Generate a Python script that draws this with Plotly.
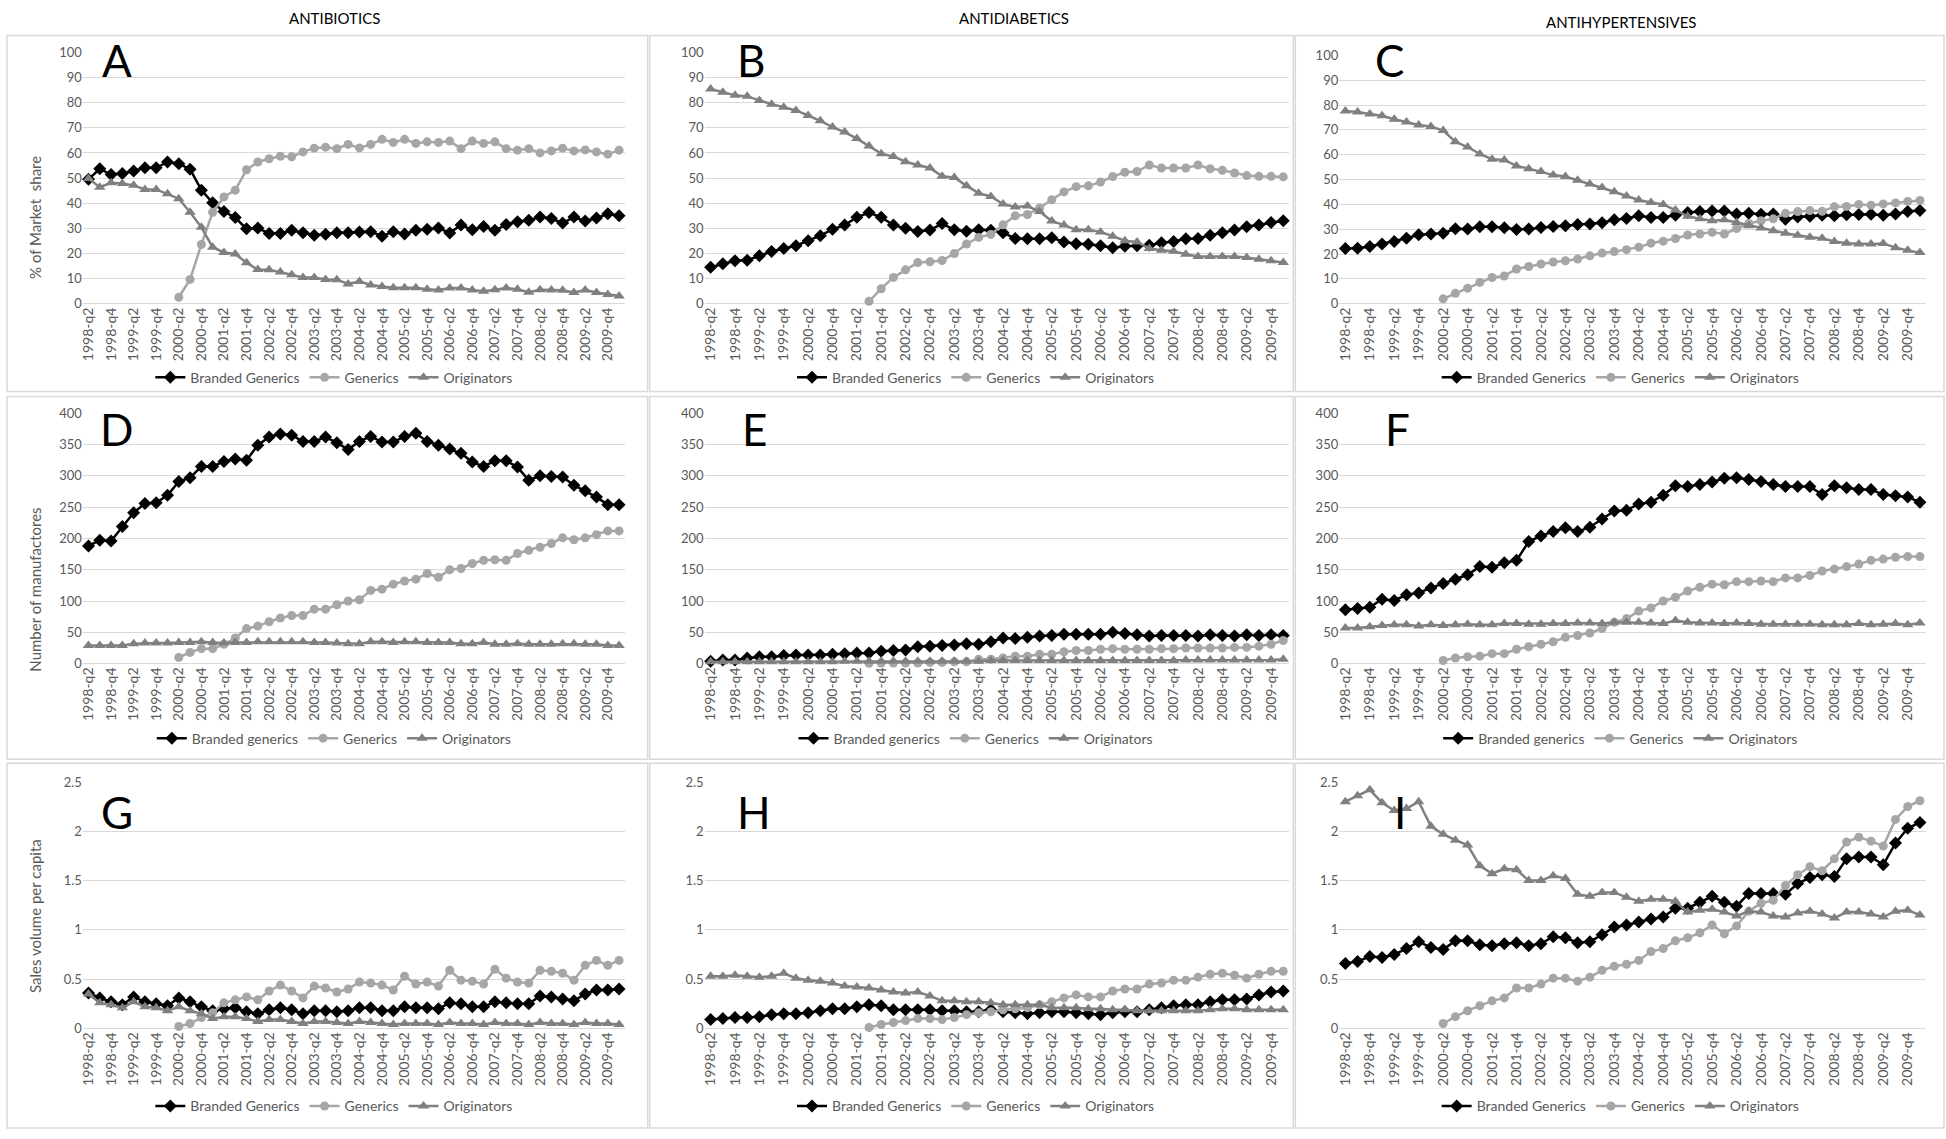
import plotly.graph_objects as go

W, H = 1946, 1139


def px(x):
    return x / W


def py(y):
    return 1 - y / H


# ---------------- categories ----------------
quarters = [f"{yr}-q{q}" for yr in range(1998, 2011) for q in range(1, 5)][1:49]
tick_labels = quarters[::2]

# ---------------- data: market share (%) ----------------
A_branded = [49.5, 53.7, 51.4, 51.8, 52.8, 54.1, 54.1, 56.4, 55.7, 53.5, 45.2, 40.2, 36.7, 34.3, 29.8, 30.1,
             28.0, 28.0, 29.2, 28.3, 27.3, 27.7, 28.3, 28.3, 28.6, 28.7, 26.9, 28.7, 27.8, 29.2, 29.6, 30.1,
             28.2, 31.3, 29.4, 30.7, 29.2, 31.5, 32.6, 33.2, 34.5, 33.9, 32.1, 34.5, 32.9, 34.1, 35.8, 35.0]
A_generics = [None] * 8 + [2.6, 9.7, 23.6, 36.4, 42.5, 45.2, 53.3, 56.4, 57.7, 58.7, 58.5, 60.4, 61.9, 62.3,
                           61.7, 63.4, 62.0, 63.4, 65.4, 64.2, 65.4, 63.8, 64.4, 64.2, 64.7, 61.7, 64.7, 63.8,
                           64.4, 61.7, 61.1, 61.7, 60.0, 60.8, 61.9, 60.8, 61.2, 60.4, 59.5, 61.1]
A_originators = [49.8, 46.4, 48.1, 47.8, 47.1, 45.5, 45.5, 43.8, 41.8, 36.4, 30.4, 22.5, 20.4, 19.8, 16.3, 13.6,
                 13.5, 12.6, 11.5, 10.5, 10.5, 9.7, 9.6, 7.9, 8.9, 7.5, 6.9, 6.4, 6.4, 6.4, 5.8, 5.5,
                 6.3, 6.3, 5.5, 5.0, 5.6, 6.3, 5.8, 4.6, 5.6, 5.5, 5.4, 4.5, 5.5, 4.5, 3.7, 3.1]

B_branded = [14.5, 15.9, 17.1, 17.3, 19.1, 20.8, 22.0, 23.1, 25.1, 27.1, 29.6, 31.3, 34.4, 36.3, 34.4, 31.3,
             30.0, 28.8, 29.3, 31.9, 29.4, 28.9, 29.4, 29.2, 28.3, 26.0, 25.9, 25.9, 26.3, 24.6, 23.9, 23.7,
             23.1, 22.3, 22.9, 23.1, 23.3, 24.3, 24.8, 25.9, 26.0, 27.3, 28.3, 29.3, 30.6, 31.3, 32.3, 33.0]
B_generics = [None] * 13 + [1.0, 6.0, 10.5, 13.5, 16.4, 16.7, 17.2, 20.0, 23.8, 26.4, 27.6, 31.4, 35.0, 35.5,
                            38.1, 41.4, 44.5, 46.6, 46.9, 48.4, 50.6, 52.3, 52.6, 55.2, 54.0, 54.0, 54.0, 55.2,
                            53.7, 53.1, 52.0, 51.0, 50.7, 50.7, 50.5]
B_originators = [85.4, 84.1, 82.9, 82.5, 80.9, 79.4, 78.2, 76.9, 74.9, 72.8, 70.3, 68.3, 65.7, 62.8, 59.7, 58.6,
                 56.5, 55.2, 54.0, 50.7, 50.2, 46.9, 44.0, 42.7, 39.7, 38.5, 38.9, 36.7, 32.9, 31.3, 29.4, 29.4,
                 28.6, 26.9, 25.1, 24.6, 22.0, 21.3, 20.9, 19.7, 18.8, 18.8, 18.8, 18.8, 18.4, 17.7, 17.1, 16.4]

C_branded = [22.3, 22.4, 23.1, 24.1, 25.1, 26.4, 27.8, 28.1, 28.4, 30.2, 30.1, 31.0, 31.0, 30.6, 29.9, 30.1,
             30.7, 31.1, 31.4, 31.9, 32.1, 32.6, 33.8, 34.3, 35.4, 34.7, 34.7, 35.6, 36.7, 37.1, 37.3, 37.3,
             36.1, 36.4, 36.0, 36.1, 34.0, 34.9, 35.2, 35.6, 35.4, 35.8, 35.9, 36.0, 35.6, 36.1, 37.1, 37.5]
C_generics = [None] * 8 + [2.0, 4.2, 6.3, 8.6, 10.6, 11.2, 14.0, 15.0, 16.0, 16.8, 17.3, 18.0, 19.3, 20.4,
                           21.0, 21.8, 22.8, 24.4, 25.2, 26.3, 27.7, 28.1, 28.8, 28.1, 30.3, 32.3, 33.4, 34.2,
                           36.4, 37.1, 37.5, 37.2, 39.1, 39.2, 40.0, 39.7, 40.2, 40.6, 41.2, 41.6]
C_originators = [77.6, 77.2, 76.4, 75.7, 74.3, 73.2, 72.0, 71.4, 69.7, 65.2, 63.1, 60.3, 58.2, 57.9, 55.5, 54.4,
                 53.2, 51.8, 51.2, 49.7, 48.2, 46.8, 45.1, 43.4, 41.8, 40.8, 40.0, 37.7, 35.2, 34.2, 33.4, 33.8,
                 32.7, 31.4, 30.5, 29.4, 28.4, 27.6, 26.8, 26.4, 25.1, 24.4, 24.1, 24.1, 24.3, 22.6, 21.5, 20.6]

# ---------------- data: number of manufacturers ----------------
D_branded = [188, 197, 196, 219, 241, 256, 257, 269, 291, 297, 315, 315, 323, 327, 325, 349,
             362, 367, 365, 355, 355, 362, 353, 342, 355, 363, 354, 354, 363, 368, 355, 349,
             343, 336, 322, 315, 324, 324, 314, 293, 300, 299, 298, 285, 276, 266, 254, 254]
D_generics = [None] * 8 + [10, 18, 24, 24, 31, 41, 56, 60, 67, 73, 77, 77, 87, 87, 94, 100, 102, 117, 119, 127,
                           132, 135, 144, 138, 150, 152, 160, 165, 166, 165, 176, 181, 186, 192, 201, 198, 201,
                           206, 212, 212]
D_originators = [29, 29, 29, 29, 32, 33, 33, 33, 34, 34, 35, 34, 33, 34, 34, 35,
                 35, 35, 35, 35, 34, 34, 33, 32, 32, 35, 35, 34, 35, 35, 34, 34,
                 34, 32, 32, 34, 31, 31, 32, 31, 31, 31, 32, 32, 31, 31, 29, 29]

E_branded = [4, 6, 6, 9, 11, 11, 13, 14, 14, 14, 15, 16, 17, 17, 20, 21,
             22, 27, 28, 29, 30, 32, 31, 35, 41, 40, 42, 44, 45, 47, 47, 47,
             47, 50, 48, 46, 44, 45, 45, 45, 44, 46, 45, 44, 46, 45, 46, 45]
E_generics = [None] * 13 + [0.5, 1, 1, 1, 1, 2, 2, 3, 3, 7, 7, 9, 12, 12, 15, 15, 19, 21, 21, 23, 24, 23, 23,
                            23, 24, 24, 25, 25, 25, 25, 26, 26, 28, 31, 37]
E_originators = [3, 3, 3, 3, 3, 3, 3, 3, 3, 3, 3, 4, 4, 4, 4, 4,
                 4, 4, 4, 4, 4, 4, 4, 5, 5, 5, 5, 5, 5, 5, 5, 5,
                 5, 5, 5, 5, 5, 5, 5, 6, 6, 6, 6, 6, 6, 6, 6, 7]

F_branded = [86, 88, 90, 103, 101, 110, 113, 121, 128, 135, 142, 155, 154, 161, 165, 195,
             204, 211, 217, 211, 218, 231, 244, 245, 255, 258, 269, 284, 283, 286, 290, 296,
             297, 294, 291, 286, 283, 283, 283, 270, 284, 281, 278, 278, 270, 268, 266, 258]
F_generics = [None] * 8 + [5, 9, 11, 12, 16, 16, 23, 27, 31, 35, 42, 45, 49, 56, 66, 72, 84, 89, 100, 106,
                           116, 122, 127, 126, 131, 131, 132, 131, 137, 137, 141, 148, 151, 155, 159, 165, 167,
                           170, 171, 171]
F_originators = [57, 57, 59, 61, 62, 62, 60, 62, 61, 62, 63, 62, 62, 64, 64, 63,
                 63, 64, 64, 65, 65, 64, 66, 66, 66, 65, 64, 69, 66, 65, 65, 64,
                 65, 64, 63, 63, 63, 63, 63, 62, 62, 62, 64, 62, 63, 64, 62, 65]

# ---------------- data: sales volume per capita ----------------
G_branded = [0.36, 0.31, 0.27, 0.24, 0.32, 0.27, 0.25, 0.23, 0.31, 0.27, 0.22, 0.18, 0.20, 0.21, 0.17, 0.15,
             0.19, 0.21, 0.19, 0.15, 0.18, 0.18, 0.17, 0.18, 0.21, 0.21, 0.18, 0.18, 0.22, 0.21, 0.21, 0.20,
             0.26, 0.25, 0.22, 0.22, 0.27, 0.26, 0.25, 0.25, 0.33, 0.32, 0.30, 0.28, 0.35, 0.39, 0.39, 0.40]
G_generics = [None] * 8 + [0.02, 0.05, 0.11, 0.16, 0.26, 0.29, 0.32, 0.29, 0.38, 0.44, 0.38, 0.31, 0.43, 0.41,
                           0.37, 0.40, 0.47, 0.46, 0.44, 0.39, 0.53, 0.45, 0.47, 0.43, 0.59, 0.49, 0.48, 0.45,
                           0.60, 0.51, 0.47, 0.46, 0.59, 0.58, 0.56, 0.49, 0.64, 0.69, 0.64, 0.69]
G_originators = [0.35, 0.26, 0.24, 0.21, 0.27, 0.22, 0.21, 0.18, 0.22, 0.18, 0.15, 0.10, 0.12, 0.12, 0.10, 0.07,
                 0.09, 0.09, 0.07, 0.05, 0.07, 0.07, 0.06, 0.05, 0.07, 0.06, 0.05, 0.04, 0.05, 0.05, 0.05, 0.04,
                 0.06, 0.05, 0.05, 0.04, 0.06, 0.05, 0.05, 0.04, 0.06, 0.05, 0.05, 0.04, 0.06, 0.05, 0.05, 0.04]

H_branded = [0.09, 0.10, 0.11, 0.11, 0.12, 0.14, 0.15, 0.15, 0.16, 0.18, 0.20, 0.20, 0.22, 0.24, 0.23, 0.19,
             0.19, 0.19, 0.19, 0.18, 0.18, 0.17, 0.17, 0.19, 0.17, 0.16, 0.15, 0.16, 0.17, 0.17, 0.16, 0.15,
             0.14, 0.16, 0.17, 0.17, 0.19, 0.21, 0.23, 0.24, 0.24, 0.27, 0.29, 0.29, 0.30, 0.34, 0.37, 0.38]
H_generics = [None] * 13 + [0.01, 0.04, 0.06, 0.08, 0.10, 0.10, 0.09, 0.11, 0.14, 0.16, 0.17, 0.19, 0.20, 0.21,
                            0.24, 0.27, 0.31, 0.34, 0.32, 0.32, 0.38, 0.40, 0.40, 0.45, 0.46, 0.49, 0.49, 0.52,
                            0.55, 0.56, 0.54, 0.51, 0.55, 0.58, 0.58]
H_originators = [0.53, 0.53, 0.54, 0.53, 0.52, 0.53, 0.56, 0.51, 0.49, 0.48, 0.46, 0.43, 0.42, 0.41, 0.39, 0.37,
                 0.36, 0.37, 0.33, 0.28, 0.28, 0.27, 0.27, 0.26, 0.24, 0.24, 0.24, 0.24, 0.21, 0.21, 0.21, 0.20,
                 0.20, 0.19, 0.19, 0.18, 0.18, 0.18, 0.18, 0.18, 0.18, 0.19, 0.20, 0.20, 0.19, 0.19, 0.19, 0.19]

I_branded = [0.66, 0.68, 0.73, 0.72, 0.75, 0.81, 0.88, 0.82, 0.80, 0.89, 0.89, 0.85, 0.84, 0.86, 0.87, 0.84,
             0.86, 0.93, 0.92, 0.87, 0.88, 0.95, 1.03, 1.05, 1.08, 1.11, 1.13, 1.22, 1.22, 1.28, 1.34, 1.28,
             1.24, 1.37, 1.37, 1.37, 1.36, 1.47, 1.53, 1.56, 1.54, 1.72, 1.74, 1.74, 1.66, 1.88, 2.03, 2.09]
I_generics = [None] * 8 + [0.05, 0.12, 0.18, 0.23, 0.28, 0.31, 0.41, 0.41, 0.45, 0.51, 0.51, 0.48, 0.52, 0.59,
                           0.63, 0.65, 0.69, 0.78, 0.81, 0.89, 0.92, 0.97, 1.05, 0.96, 1.04, 1.19, 1.27, 1.30,
                           1.45, 1.56, 1.64, 1.60, 1.72, 1.89, 1.94, 1.90, 1.85, 2.12, 2.25, 2.31]
I_originators = [2.30, 2.36, 2.42, 2.29, 2.21, 2.23, 2.30, 2.05, 1.97, 1.91, 1.86, 1.65, 1.57, 1.62, 1.61, 1.50,
                 1.50, 1.55, 1.52, 1.36, 1.34, 1.38, 1.38, 1.33, 1.29, 1.31, 1.31, 1.29, 1.18, 1.20, 1.21, 1.18,
                 1.14, 1.19, 1.18, 1.14, 1.13, 1.17, 1.19, 1.16, 1.12, 1.18, 1.18, 1.16, 1.13, 1.19, 1.20, 1.15]

column_titles = ["ANTIBIOTICS", "ANTIDIABETICS", "ANTIHYPERTENSIVES"]
panel_letters = ["A", "B", "C", "D", "E", "F", "G", "H", "I"]
y_titles = ["% of Market  share", "Number of manufactores", "Sales volume per capita"]
legend_names_row = [["Branded Generics", "Generics", "Originators"],
                    ["Branded generics", "Generics", "Originators"],
                    ["Branded Generics", "Generics", "Originators"]]
y_ranges = [[0, 100], [0, 400], [0, 2.5]]
y_dticks = [10, 50, 0.5]

panel_data = [
    (A_branded, A_generics, A_originators), (B_branded, B_generics, B_originators),
    (C_branded, C_generics, C_originators), (D_branded, D_generics, D_originators),
    (E_branded, E_generics, E_originators), (F_branded, F_generics, F_originators),
    (G_branded, G_generics, G_originators), (H_branded, H_generics, H_originators),
    (I_branded, I_generics, I_originators),
]

# ---------------- layout geometry (pixels) ----------------
col_x = [(79, 622), (702, 1288), (1338, 1926)]
row_y = [(45, 300), (411, 665), (785, 1035)]
col_box = [(3, 645), (647, 1292), (1294, 1944)]
row_box = [(28, 389), (394, 762), (766, 1136)]
legend_y = [375, 741, 1114]
legend_cx = [331, 974, 1620]
letter_xy = [(113, 53), (749, 53), (1388, 53),
             (113, 427), (752, 427), (1396, 427),
             (113, 815), (752, 815), (1399, 815)]
title_x = [331, 1012, 1620]
title_y = [10, 10, 14]
ytitle_y = [212, 590, 921]

FONT = "Lato, 'Liberation Sans', sans-serif"
GRAY = "#595959"
GRID = "#d9d9d9"

styles = [
    dict(color="#000000", symbol="diamond", size=10),
    dict(color="#a6a6a6", symbol="circle", size=9),
    dict(color="#808080", symbol="triangle-up", size=10),
]

fig = go.Figure()
layout = dict(
    width=W, height=H, margin=dict(l=0, r=0, t=0, b=0),
    paper_bgcolor="white", plot_bgcolor="white",
    font=dict(family=FONT, color=GRAY),
    annotations=[], shapes=[],
)

for i in range(9):
    r, c = divmod(i, 3)
    sfx = "" if i == 0 else str(i + 1)
    leg = "legend" + sfx
    for k in range(3):
        st = styles[k]
        fig.add_trace(go.Scatter(
            x=quarters, y=panel_data[i][k], mode="lines+markers",
            name=legend_names_row[r][k],
            xaxis="x" + sfx, yaxis="y" + sfx, legend=leg,
            line=dict(color=st["color"], width=2.5),
            marker=dict(symbol=st["symbol"], size=st["size"], color=st["color"]),
            cliponaxis=False, connectgaps=False,
        ))
    x0, x1 = col_x[c]
    y0, y1 = row_y[r]
    if i == 2:
        y0 = 48
    layout["xaxis" + sfx] = dict(
        domain=[px(x0), px(x1)], anchor="y" + sfx, type="category",
        categoryorder="array", categoryarray=quarters,
        range=[-0.5, 47.5], tickmode="array", tickvals=tick_labels, ticktext=tick_labels,
        tickangle=-90, tickfont=dict(size=14, color=GRAY, family=FONT),
        showgrid=False, showline=False, zeroline=False, ticks="",
    )
    layout["yaxis" + sfx] = dict(
        domain=[py(y1), py(y0)], anchor="x" + sfx, range=y_ranges[r], dtick=y_dticks[r],
        tick0=0, showgrid=True, gridcolor=GRID, gridwidth=1, showline=False,
        zeroline=True, zerolinecolor=GRID, zerolinewidth=1, ticks="",
        tickfont=dict(size=13, color=GRAY, family=FONT),
    )
    layout[leg] = dict(
        orientation="h", x=px(legend_cx[c]), y=py(legend_y[r]),
        xanchor="center", yanchor="middle", bgcolor="rgba(0,0,0,0)",
        font=dict(size=14, color=GRAY, family=FONT), itemwidth=30,
    )
    layout["shapes"].append(dict(
        type="rect", xref="paper", yref="paper",
        x0=px(col_box[c][0]), x1=px(col_box[c][1]),
        y0=py(row_box[r][1]), y1=py(row_box[r][0]),
        line=dict(color=GRID, width=1.5), layer="below",
    ))
    lx, ly = letter_xy[i]
    layout["annotations"].append(dict(
        text=panel_letters[i], x=px(lx), y=py(ly),
        xref="paper", yref="paper", xanchor="center", yanchor="middle",
        showarrow=False, font=dict(size=44, color="black", family=FONT),
    ))

for c in range(3):
    layout["annotations"].append(dict(
        text=column_titles[c], x=px(title_x[c]), y=py(title_y[c]),
        xref="paper", yref="paper", xanchor="center", yanchor="middle",
        showarrow=False, font=dict(size=15, color="black", family=FONT),
    ))

for r in range(3):
    layout["annotations"].append(dict(
        text=y_titles[r], x=px(31), y=py(ytitle_y[r]), textangle=-90,
        xref="paper", yref="paper", xanchor="center", yanchor="middle",
        showarrow=False, font=dict(size=15, color=GRAY, family=FONT),
    ))

fig.update_layout(**layout)
fig.write_html(
    "out.html",
    config={"displayModeBar": False},
    post_script="document.body.style.margin='0';document.body.style.overflow='hidden';",
)
